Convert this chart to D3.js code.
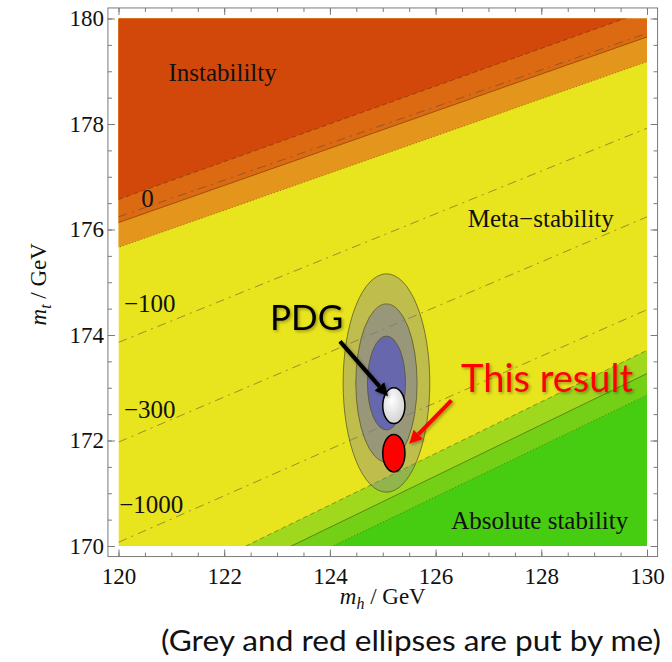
<!DOCTYPE html>
<html>
<head>
<meta charset="utf-8">
<script src="https://cdn.jsdelivr.net/npm/d3@7"></script>
<style>
  body { margin: 0; background: #fff; }
  svg { display: block; }
</style>
</head>
<body>
<script>
// --- data (mh, mt in GeV) ---
// boundaries of the instability side: dashed, solid, dotted  [mh1, mt1, mh2, mt2]
const instabilityLines = [
    [120, 176.57, 130, 180.15],
    [120, 176.13, 130, 179.65],
    [120, 175.66, 130, 179.18]
];
// boundaries of the absolute stability side: dashed, solid, dotted
const stabilityLines = [
    [122.41, 170, 130, 173.71],
    [123.27, 170, 130, 173.27],
    [124.06, 170, 130, 172.86]
];
// dash-dot contours and their labels
const contourLabels = ["0", "\u2212100", "\u2212300", "\u22121000"];
const contourLines = [
    [120, 176.24, 130, 179.72],
    [120, 173.86, 130, 177.92],
    [120, 171.97, 130, 176.24],
    [120, 170.07, 130, 174.48]
];
const contourLabelPos = [[120.55, 176.6], [120.59, 174.6], [120.59, 172.6], [120.62, 170.8]];

// region names
const regionNames = ["Instabililty", "Meta\u2212stability", "Absolute stability"];
const regionPos = [[121.97, 178.98], [127.99, 176.21], [127.97, 170.48]];

// 1,2,3 sigma ellipses (semi axes in GeV)
const ellipseCenter = [125.07, 173.09];
const ellipseRx = [0.82, 0.58, 0.36];
const ellipseRy = [2.07, 1.50, 0.89];

// markers added on top
const markerNames = ["PDG", "This result"];
const markerPos = [[125.21, 172.66], [125.21, 171.76]];
const markerRx = [0.21, 0.21];
const markerRy = [0.34, 0.355];
const markerLabelPos = [[123.56, 174.32], [128.11, 173.18]];
const arrowFrom = [[124.19, 173.88], [126.30, 172.76]];
const arrowTo = [[125.10, 172.84], [125.50, 171.94]];

const xTicks = d3.range(120, 130.01, 2);
const yTicks = d3.range(170, 180.01, 2);
const minorTicks = 0.5;

// --- layout ---
const width = 672, height = 662;
const svg = d3.select("body").append("svg")
    .attr("width", width)
    .attr("height", height);

const x = d3.scaleLinear().domain([120, 130]).range([118.5, 647]);
const y = d3.scaleLinear().domain([170, 180]).range([546, 18.5]);

const serif = "'Liberation Serif', 'DejaVu Serif', serif";
const sans = "Lato, 'Open Sans', sans-serif";

const defs = svg.append("defs");
defs.append("clipPath").attr("id", "plotClip")
    .append("rect")
    .attr("x", x(120)).attr("y", y(180))
    .attr("width", x(130) - x(120)).attr("height", y(170) - y(180));

const shadow = defs.append("filter").attr("id", "soft")
    .attr("x", "-20%").attr("y", "-20%").attr("width", "140%").attr("height", "140%");
shadow.append("feDropShadow")
    .attr("dx", 1.5).attr("dy", 1.5).attr("stdDeviation", 1.5)
    .attr("flood-color", "#000").attr("flood-opacity", 0.35);

const grad = defs.append("radialGradient").attr("id", "pdgFill")
    .attr("cx", "40%").attr("cy", "35%").attr("r", "70%");
grad.append("stop").attr("offset", "0%").attr("stop-color", "#ffffff");
grad.append("stop").attr("offset", "100%").attr("stop-color", "#cfcfcf");

function lineAt(l, mh) {
    return l[1] + (mh - l[0]) * (l[3] - l[1]) / (l[2] - l[0]);
}
const path = d3.line().x(d => x(d[0])).y(d => y(d[1]));

const plot = svg.append("g").attr("clip-path", "url(#plotClip)");

// meta-stability background
plot.append("rect")
    .attr("x", x(120)).attr("y", y(180))
    .attr("width", x(130) - x(120)).attr("height", y(170) - y(180))
    .attr("fill", "#e8e41e");

// instability side, drawn from the lowest band up
const upperFill = ["#d2480a", "#dc6a12", "#e4961c"];
[2, 1, 0].forEach(i => {
    const l = instabilityLines[i];
    plot.append("path")
        .attr("d", path([[119, lineAt(l, 119)], [131, lineAt(l, 131)], [131, 181], [119, 181]]))
        .attr("fill", upperFill[i]);
});

// absolute stability side
const lowerFill = ["#a0d81e", "#74d016", "#46cc10"];
[0, 1, 2].forEach(i => {
    const l = stabilityLines[i];
    plot.append("path")
        .attr("d", path([[119, lineAt(l, 119)], [131, lineAt(l, 131)], [131, 169], [119, 169]]))
        .attr("fill", lowerFill[i]);
});

// boundary strokes
const boundaryDash = ["5,3", null, "1.2,2"];
function drawBoundaries(lines, color) {
    lines.forEach((l, i) => {
        plot.append("path")
            .attr("d", path([[119, lineAt(l, 119)], [131, lineAt(l, 131)]]))
            .attr("fill", "none")
            .attr("stroke", color)
            .attr("stroke-width", i === 1 ? 0.9 : 0.8)
            .attr("stroke-dasharray", boundaryDash[i]);
    });
}
drawBoundaries(instabilityLines, "rgba(90,30,0,0.55)");
drawBoundaries(stabilityLines, "rgba(40,60,10,0.55)");

// dash-dot contours
contourLines.forEach(l => {
    plot.append("path")
        .attr("d", path([[120, l[1]], [130, l[3]]]))
        .attr("fill", "none")
        .attr("stroke", "rgba(90,75,50,0.55)")
        .attr("stroke-width", 1)
        .attr("stroke-dasharray", "9,5,2,5");
});

// confidence ellipses
ellipseRx.forEach((rx, i) => {
    plot.append("ellipse")
        .attr("cx", x(ellipseCenter[0])).attr("cy", y(ellipseCenter[1]))
        .attr("rx", x(120 + rx) - x(120))
        .attr("ry", y(170) - y(170 + ellipseRy[i]))
        .attr("fill", i === 2 ? "#5252c4" : "#78789e")
        .attr("fill-opacity", [0.36, 0.55, 0.7][i])
        .attr("stroke", "rgba(80,80,30,0.7)")
        .attr("stroke-width", 1);
});

// text inside the plot
const inner = svg.append("g").attr("font-family", serif).attr("fill", "#111");
inner.selectAll(".contourLabel")
    .data(contourLabels)
    .join("text")
    .attr("class", "contourLabel")
    .attr("x", (d, i) => x(contourLabelPos[i][0]))
    .attr("y", (d, i) => y(contourLabelPos[i][1]))
    .attr("dy", "0.35em")
    .attr("text-anchor", "middle")
    .attr("font-size", 25)
    .text(d => d);

inner.selectAll(".regionLabel")
    .data(regionNames)
    .join("text")
    .attr("class", "regionLabel")
    .attr("x", (d, i) => x(regionPos[i][0]))
    .attr("y", (d, i) => y(regionPos[i][1]))
    .attr("dy", "0.35em")
    .attr("text-anchor", "middle")
    .attr("font-size", 25)
    .text(d => d);

// frame and ticks (Mathematica style, padded frame, ticks pointing in)
const xf = d3.scaleLinear().domain([119.8, 130.2]).range([x(119.8), x(130.2)]);
const yf = d3.scaleLinear().domain([169.8, 180.2]).range([y(169.8), y(180.2)]);
const frameCol = "#7a7a7a";

svg.append("rect")
    .attr("x", xf(119.8)).attr("y", yf(180.2))
    .attr("width", xf(130.2) - xf(119.8)).attr("height", yf(169.8) - yf(180.2))
    .attr("fill", "none").attr("stroke", frameCol).attr("stroke-width", 1);

const minorX = d3.range(120, 130.01, minorTicks);
const minorY = d3.range(170, 180.01, minorTicks);

function styleAxis(g) {
    g.select(".domain").remove();
    g.selectAll(".tick line").attr("stroke", frameCol);
    g.selectAll(".tick text")
        .attr("font-family", serif)
        .attr("font-size", 23)
        .attr("fill", "#111");
}

const axes = [
    {axis: d3.axisBottom(x), ticks: xTicks, minor: minorX, tr: `translate(0,${yf(169.8)})`, labels: true, pad: 11},
    {axis: d3.axisTop(x), ticks: xTicks, minor: minorX, tr: `translate(0,${yf(180.2)})`, labels: false, pad: 3},
    {axis: d3.axisLeft(y), ticks: yTicks, minor: minorY, tr: `translate(${xf(119.8)},0)`, labels: true, pad: 4},
    {axis: d3.axisRight(y), ticks: yTicks, minor: minorY, tr: `translate(${xf(130.2)},0)`, labels: false, pad: 3}
];
axes.forEach(a => {
    svg.append("g").attr("transform", a.tr)
        .call(a.axis.tickValues(a.minor).tickSize(-4).tickFormat(""))
        .call(styleAxis);
    svg.append("g").attr("transform", a.tr)
        .call(a.axis.tickValues(a.ticks).tickSize(-7).tickPadding(a.pad)
            .tickFormat(a.labels ? d3.format("d") : ""))
        .call(styleAxis);
});

// axis titles
const xTitle = svg.append("text")
    .attr("x", x(125)).attr("y", 604)
    .attr("text-anchor", "middle")
    .attr("font-family", serif).attr("font-size", 23).attr("fill", "#111");
xTitle.append("tspan").attr("font-style", "italic").text("m");
xTitle.append("tspan").attr("font-style", "italic").attr("font-size", 16).attr("dy", 5).text("h");
xTitle.append("tspan").attr("dy", -5).text(" / GeV");

const yTitle = svg.append("text")
    .attr("transform", `translate(46,${y(175) + 2}) rotate(-90)`)
    .attr("text-anchor", "middle")
    .attr("font-family", serif).attr("font-size", 23).attr("fill", "#111");
yTitle.append("tspan").attr("font-style", "italic").text("m");
yTitle.append("tspan").attr("font-style", "italic").attr("font-size", 16).attr("dy", 5).text("t");
yTitle.append("tspan").attr("dy", -5).text(" / GeV");

// added markers, arrows and labels
const markerFill = ["url(#pdgFill)", "#ff0000"];
const markerColor = ["#000000", "#ff0000"];
markerNames.forEach((name, i) => {
    svg.append("ellipse")
        .attr("cx", x(markerPos[i][0])).attr("cy", y(markerPos[i][1]))
        .attr("rx", x(120 + markerRx[i]) - x(120))
        .attr("ry", y(170) - y(170 + markerRy[i]))
        .attr("fill", markerFill[i])
        .attr("stroke", "#000").attr("stroke-width", 1.5);
});

markerNames.forEach((name, i) => {
    const x0 = x(arrowFrom[i][0]), y0 = y(arrowFrom[i][1]);
    const x1 = x(arrowTo[i][0]), y1 = y(arrowTo[i][1]);
    const ang = Math.atan2(y1 - y0, x1 - x0);
    const head = 13, half = 6.5;
    const bx = x1 - head * Math.cos(ang), by = y1 - head * Math.sin(ang);
    const g = svg.append("g").attr("filter", "url(#soft)");
    g.append("line")
        .attr("x1", x0).attr("y1", y0).attr("x2", bx).attr("y2", by)
        .attr("stroke", markerColor[i]).attr("stroke-width", 4);
    g.append("path")
        .attr("d", `M${x1},${y1}L${bx - half * Math.sin(ang)},${by + half * Math.cos(ang)}L${bx + half * Math.sin(ang)},${by - half * Math.cos(ang)}Z`)
        .attr("fill", markerColor[i]);
    g.append("text")
        .attr("x", x(markerLabelPos[i][0])).attr("y", y(markerLabelPos[i][1]))
        .attr("dy", "0.35em")
        .attr("text-anchor", "middle")
        .attr("font-family", sans)
        .attr("font-size", i === 0 ? 35 : 38)
        .attr("fill", markerColor[i])
        .text(name);
});

svg.append("text")
    .attr("x", 411).attr("y", 651)
    .attr("text-anchor", "middle")
    .attr("font-family", sans)
    .attr("font-size", 29)
    .attr("textLength", 500)
    .attr("lengthAdjust", "spacingAndGlyphs")
    .attr("fill", "#111")
    .text("(Grey and red ellipses are put by me)");
</script>
</body>
</html>
